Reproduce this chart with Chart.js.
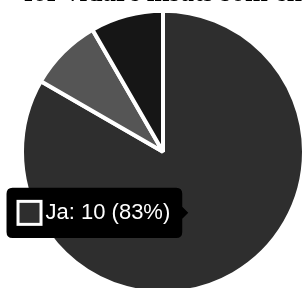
<!DOCTYPE html>
<html>
<head>
<meta charset="utf-8">
<script src="https://cdn.jsdelivr.net/npm/chart.js@4"></script>
<style>
    body {
        margin: 0;
        background: #fff;
    }
    .chart-box {
        position: relative;
        width: 302px;
        height: 288px;
        overflow: hidden;
    }
    #pie-graph {
        position: absolute;
        left: 0;
        top: -37px;
    }
</style>
</head>
<body>
<div class="chart-box">
    <canvas id="pie-graph" width="302" height="340"></canvas>
</div>
<script>
let titleText = 'för vidare insats som en';
let labelList = ['Ja', 'Nej', 'Vet ej'];
let dataItem = [10, 1, 1];
let bgColors = ['#2e2e2e', '#555555', '#161616'];

// tooltip sits a little left of the slice centre, like the screenshot
Chart.Tooltip.positioners.shotPos = function (items) {
    if (!items.length) {
        return false;
    }
    let pos = items[0].element.tooltipPosition();
    return { x: pos.x - 8, y: pos.y };
};

let ctx = document.querySelector('#pie-graph').getContext('2d');

let pieChart = new Chart(ctx, {
    type: 'pie',
    data: {
        labels: labelList,
        datasets: [
            {
                data: dataItem,
                backgroundColor: bgColors,
                borderColor: '#ffffff',
                borderWidth: 4,
                radius: 141,
                clip: false
            }
        ]
    },
    options: {
        responsive: false,
        animation: false,
        layout: {
            padding: { left: 24, right: 0, top: 0, bottom: 22 }
        },
        plugins: {
            legend: { display: false },
            title: {
                display: true,
                text: titleText,
                color: '#000',
                font: { family: '"Liberation Serif", "DejaVu Serif", serif', size: 33, weight: 'bold' },
                padding: { top: 10, bottom: 10 }
            },
            tooltip: {
                enabled: true,
                position: 'shotPos',
                backgroundColor: '#000',
                bodyColor: '#fff',
                bodyFont: { family: '"Liberation Sans", Arial, sans-serif', size: 22 },
                padding: 12,
                cornerRadius: 6,
                caretSize: 6,
                boxWidth: 22,
                boxHeight: 22,
                boxPadding: 3,
                xAlign: 'right',
                yAlign: 'center',
                callbacks: {
                    title: () => '',
                    label: (item) => {
                        let total = item.dataset.data.reduce((a, b) => a + b, 0);
                        let pct = Math.round(item.raw / total * 100);
                        return `${item.label}: ${item.raw} (${pct}%)`;
                    }
                }
            }
        }
    }
});

// show the "Ja" tooltip
pieChart.tooltip.setActiveElements([{ datasetIndex: 0, index: 0 }], { x: 0, y: 0 });
pieChart.update();
</script>
</body>
</html>
